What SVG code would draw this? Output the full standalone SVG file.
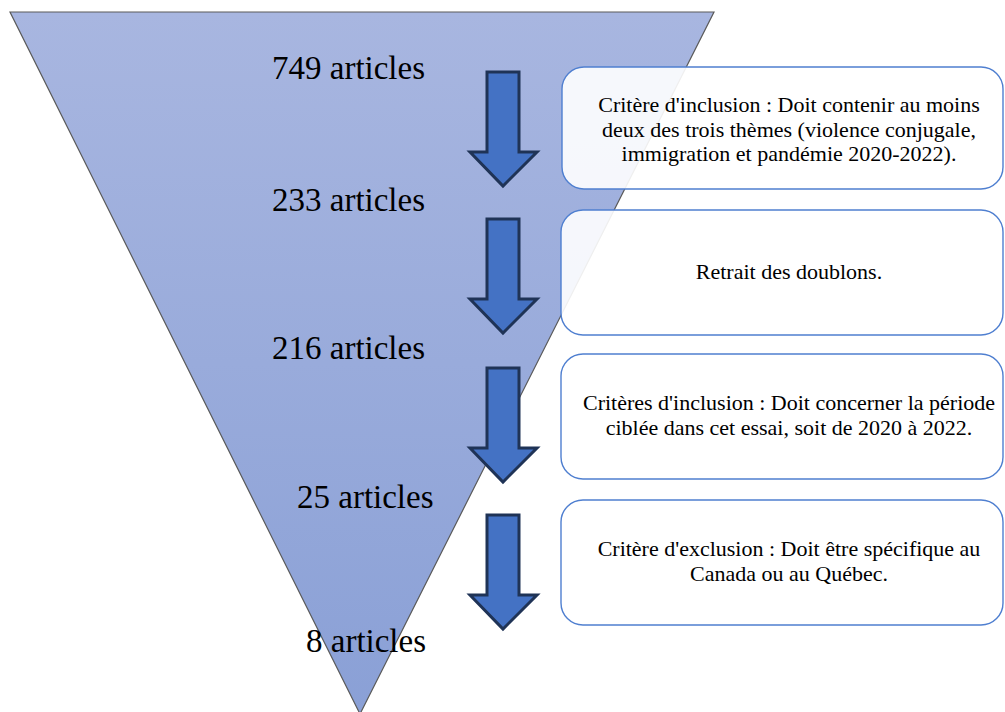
<svg xmlns="http://www.w3.org/2000/svg" width="1005" height="712" viewBox="0 0 1005 712">
<style>
.count{font-family:"Liberation Serif","Times New Roman",serif;font-size:33px;fill:#000}
.box rect{fill:#ffffff;fill-opacity:0.9;stroke:#4f7fd0;stroke-width:1.4}
.box text{font-family:"Liberation Serif","Times New Roman",serif;font-size:22px;fill:#000;text-anchor:middle}
.arrow{fill:#4472c4;stroke:#1f3356;stroke-width:3;stroke-linejoin:miter}
</style>
<defs>
<linearGradient id="fun" x1="0" y1="0" x2="0" y2="1">
<stop offset="0" stop-color="#a8b6e0"/>
<stop offset="1" stop-color="#8aa0d6"/>
</linearGradient>
<path id="arr" d="M0,0 H32 V80 H50 L16,114 L-17,80 H0 Z"/>
</defs>
<g id="funnel">
<polygon points="10,12 714,12 360,714" fill="url(#fun)" stroke="#5a5a5a" stroke-width="1.2"/>
</g>
<g id="counts">
<text class="count" x="272" y="79">749 articles</text>
<text class="count" x="272" y="211">233 articles</text>
<text class="count" x="272" y="359">216 articles</text>
<text class="count" x="297" y="508">25 articles</text>
<text class="count" x="306" y="652">8 articles</text>
</g>
<g id="connectors">
<use href="#arr" class="arrow" x="487" y="72"/>
<use href="#arr" class="arrow" x="487" y="219"/>
<use href="#arr" class="arrow" x="487" y="368"/>
<use href="#arr" class="arrow" x="487" y="515"/>
</g>
<g id="box1" class="box">
<rect x="562" y="67" width="441" height="122" rx="22"/>
<text x="789" y="112">Critère d'inclusion : Doit contenir au moins</text>
<text x="789" y="136.5">deux des trois thèmes (violence conjugale,</text>
<text x="789" y="161">immigration et pandémie 2020-2022).</text>
</g>
<g id="box2" class="box">
<rect x="561" y="210" width="442" height="125" rx="22"/>
<text x="789" y="279">Retrait des doublons.</text>
</g>
<g id="box3" class="box">
<rect x="561" y="354" width="442" height="125" rx="22"/>
<text x="789" y="410">Critères d'inclusion : Doit concerner la période</text>
<text x="789" y="434.5">ciblée dans cet essai, soit de 2020 à 2022.</text>
</g>
<g id="box4" class="box">
<rect x="561" y="500" width="442" height="125" rx="22"/>
<text x="789" y="556">Critère d'exclusion : Doit être spécifique au</text>
<text x="789" y="580.5">Canada ou au Québec.</text>
</g>
</svg>
